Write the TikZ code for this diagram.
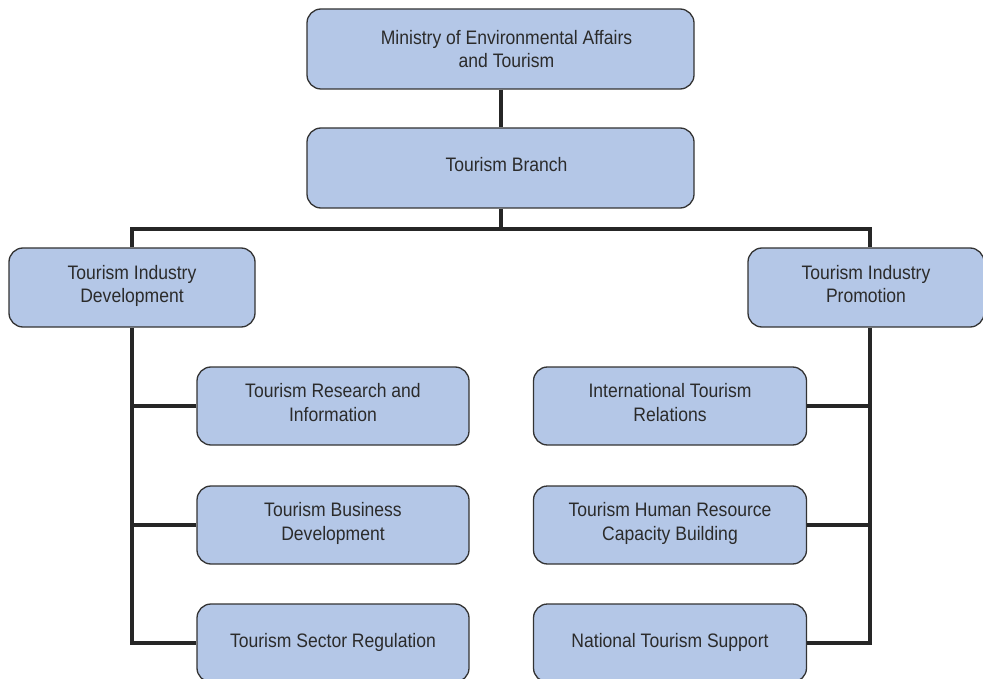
\documentclass[tikz,border=0pt]{standalone}
\usepackage{fontspec}
\setmainfont[FakeStretch=0.9]{Liberation Sans}
\definecolor{boxfill}{HTML}{B4C7E7}
\definecolor{boxline}{HTML}{333333}
\definecolor{txt}{HTML}{2B2B2B}
\newcommand{\rsh}{\hspace*{12pt}}
\tikzset{
  orgbox/.style={draw=boxline, line width=1.3pt, fill=boxfill, rounded corners=14pt,
    text=txt, font=\fontsize{19.5}{23.5}\selectfont, align=center, inner sep=0pt},
  conn/.style={line width=4pt, black!85}
}
\begin{document}
\begin{tikzpicture}[x=1pt,y=-1pt]
\useasboundingbox (0,0) rectangle (983,679);
\clip (0,0) rectangle (983,679);
\node[orgbox, minimum width=387pt, minimum height=80pt] (min) at (500.5,49) {\rsh Ministry of Environmental Affairs\\\rsh and Tourism};
\node[orgbox, minimum width=387pt, minimum height=80pt] (br) at (500.5,168) {\rsh\raisebox{3pt}[\height][\depth]{Tourism Branch}};
\node[orgbox, minimum width=246pt, minimum height=79pt] (tid) at (132,287.5) {Tourism Industry\\Development\strut};
\node[orgbox, minimum width=236pt, minimum height=79pt] (tip) at (866,287.5) {Tourism Industry\\Promotion\strut};
\node[orgbox, minimum width=272pt, minimum height=78pt] (l1) at (333,406) {Tourism Research and\\Information\strut};
\node[orgbox, minimum width=272pt, minimum height=78pt] (l2) at (333,525) {Tourism Business\\Development\strut};
\node[orgbox, minimum width=272pt, minimum height=78pt] (l3) at (333,643) {Tourism Sector Regulation\strut};
\node[orgbox, minimum width=273pt, minimum height=78pt] (r1) at (670,406) {International Tourism\\Relations\strut};
\node[orgbox, minimum width=273pt, minimum height=78pt] (r2) at (670,525) {Tourism Human Resource\\Capacity Building\strut};
\node[orgbox, minimum width=273pt, minimum height=78pt] (r3) at (670,643) {National Tourism Support\strut};
\coordinate (lx) at (132,229);
\coordinate (rx) at (870,229);
\coordinate (jn) at (br.south |- lx);
\draw[conn] (min.south) -- (br.north);
\draw[conn] (br.south) -- (jn);
\draw[conn] (lx |- tid.north) -- (lx) -- (rx) -- (rx |- tip.north);
\draw[conn] (lx |- tid.south) |- (l3.west);
\draw[conn] (l1.west) -- (l1.west -| lx);
\draw[conn] (l2.west) -- (l2.west -| lx);
\draw[conn] (rx |- tip.south) |- (r3.east);
\draw[conn] (r1.east) -- (r1.east -| rx);
\draw[conn] (r2.east) -- (r2.east -| rx);
\end{tikzpicture}
\end{document}
